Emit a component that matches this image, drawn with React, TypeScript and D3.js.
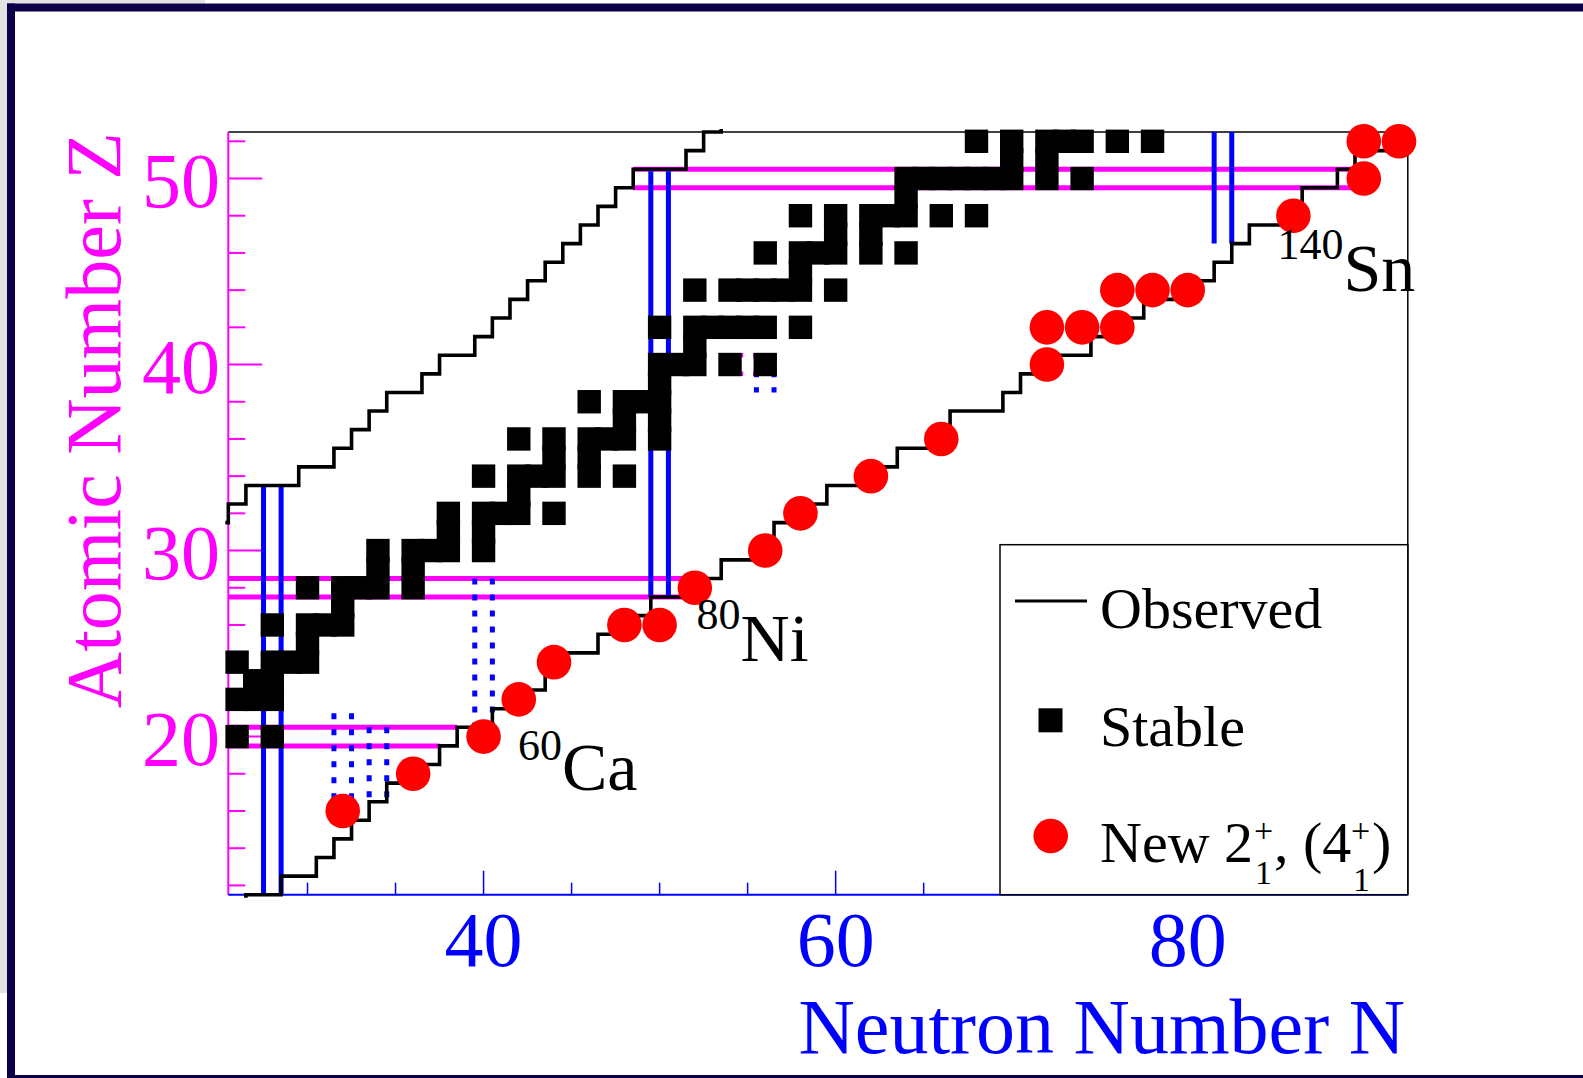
import React from 'react';
import * as d3 from 'd3';

// axis ranges (neutron number N on x, proton number Z on y)
const nDomain: [number, number] = [25.5, 92.5];
const zDomain: [number, number] = [11.5, 52.5];
const xMajorTicks = [40, 60, 80];
const xMinorTicks = [30, 35, 45, 50, 55, 65, 70, 75, 85, 90];
const yMajorTicks = [20, 30, 40, 50];
const yMinorTicks = [12, 14, 16, 18, 22, 24, 26, 28, 32, 34, 36, 38, 42, 44, 46, 48, 52];

// stable nuclei: [Z, list of N]
const stableRows: [number, number[]][] = [
  [20, [26, 28]],
  [22, [26, 27, 28]],
  [23, [27, 28]],
  [24, [26, 28, 29, 30]],
  [25, [30]],
  [26, [28, 30, 31, 32]],
  [27, [32]],
  [28, [30, 32, 33, 34, 36]],
  [29, [34, 36]],
  [30, [34, 36, 37, 38, 40]],
  [31, [38, 40]],
  [32, [38, 40, 41, 42, 44]],
  [33, [42]],
  [34, [40, 42, 43, 44, 46, 48]],
  [35, [44, 46]],
  [36, [42, 44, 46, 47, 48, 50]],
  [37, [48, 50]],
  [38, [46, 48, 49, 50]],
  [39, [50]],
  [40, [50, 51, 52, 54, 56]],
  [41, [52]],
  [42, [50, 52, 53, 54, 55, 56, 58]],
  [44, [52, 54, 55, 56, 57, 58, 60]],
  [45, [58]],
  [46, [56, 58, 59, 60, 62, 64]],
  [47, [60, 62]],
  [48, [58, 60, 62, 63, 64, 66, 68]],
  [49, [64]],
  [50, [64, 65, 66, 67, 68, 69, 70, 72, 74]],
  [51, [70, 72]],
  [52, [68, 70, 72, 73, 74, 76, 78]],
];

// new 2+ (4+) measurements
const newN = [32, 36, 40, 42, 44, 48, 50, 52, 56, 58, 62, 66, 72, 72, 74, 76, 76, 78, 80, 86, 90, 90, 92];
const newZ = [16, 18, 20, 22, 24, 26, 26, 28, 30, 32, 34, 36, 40, 42, 42, 42, 44, 44, 44, 48, 50, 52, 52];

// observed limits: lightest N (proton-rich side) and heaviest N (neutron-rich side) per Z
const obsMinZ = d3.range(31, 54);
const obsMinN = [25, 26, 27, 30, 32, 33, 34, 35, 37, 38, 40, 41, 42, 43, 44, 45, 46, 47, 48, 49, 52, 53, 54];
const obsMaxZ = d3.range(11, 53);
const obsMaxN = [26, 28, 30, 31, 32, 33, 34, 36, 37, 38, 40, 42, 43, 44, 46, 48, 49, 52, 53, 56, 56, 58, 59,
  62, 63, 65, 66, 69, 70, 72, 74, 76, 77, 80, 81, 82, 83, 86, 86, 88, 89, 93];

// magic numbers: horizontal [Z, N from, N to], vertical [N, Z from, Z to]
const protonMagic: [number, number, number][] = [
  [19.5, 25.5, 37.5], [20.5, 25.5, 38.5],
  [27.5, 25.5, 52.5], [28.5, 25.5, 52.5],
  [49.5, 48.5, 89.5], [50.5, 48.5, 89.5],
];
const protonSub: [number, number, number][] = [[39.5, 53.5, 56.5], [40.5, 53.5, 56.5]];
const neutronMagic: [number, number, number][] = [
  [27.5, 11.5, 33.5], [28.5, 11.5, 33.5],
  [49.5, 27.5, 50.5], [50.5, 27.5, 50.5],
  [81.5, 46.5, 52.5], [82.5, 46.5, 52.5],
];
const neutronSub: [number, number, number][] = [
  [31.5, 15.5, 21.25], [32.5, 15.5, 21.25],
  [33.5, 16.5, 20.5], [34.5, 16.5, 20.5],
  [39.5, 20.5, 28.5], [40.5, 20.5, 28.5],
  [55.5, 38.5, 40.5], [56.5, 38.5, 40.5],
];

const W = 1583;
const H = 1078;
const plot = { left: 228.3, right: 1407.8, top: 132, bottom: 894.7 };
const serif = "'Liberation Serif', 'Times New Roman', Times, serif";
const MAGENTA = '#ff00ff';
const BLUE = '#0000ff';
const RED = '#ff0000';
const SQ = 23.4;
const R = 17.3;

export default function App() {
  const x = d3.scaleLinear().domain(nDomain).range([plot.left, plot.right]);
  const y = d3.scaleLinear().domain(zDomain).range([plot.bottom, plot.top]);
  const line = d3.line<[number, number]>().x(d => x(d[0])).y(d => y(d[1]));

  const protonSide = obsMinZ.flatMap((z, i) => [
    [obsMinN[i] - 0.5, z - 0.5], [obsMinN[i] - 0.5, z + 0.5],
  ] as [number, number][]);
  const neutronSide = obsMaxZ.flatMap((z, i) => [
    [obsMaxN[i] + 0.5, z - 0.5], [obsMaxN[i] + 0.5, z + 0.5],
  ] as [number, number][]);

  const stable = stableRows.flatMap(([z, ns]) => ns.map(n => ({ n, z })));

  return (
    <svg width={W} height={H} style={{ position: 'absolute', left: 0, top: 0, display: 'block' }}
      fontFamily={serif}>
      <defs>
        <clipPath id="plotClip">
          <rect x={plot.left - 3} y={plot.top - 3} width={plot.right - plot.left + 6}
            height={plot.bottom - plot.top + 6} />
        </clipPath>
      </defs>
      <rect x={0} y={0} width={W} height={H} fill="#ffffff" />
      <rect x={0} y={0} width={7} height={993} fill="#e2e2e2" />
      <rect x={0} y={0} width={205} height={3.5} fill="#e2e2e2" />
      {/* canvas border */}
      <rect x={7} y={3.5} width={W - 7} height={8} fill="#0b0048" />
      <rect x={7} y={3.5} width={8} height={H - 3.5} fill="#0b0048" />
      <rect x={7} y={1075} width={W - 7} height={3} fill="#0b0048" />

      {/* frame */}
      <line x1={plot.left} x2={plot.right} y1={plot.top} y2={plot.top} stroke="#000" strokeWidth={1.5} />
      <line x1={plot.right} x2={plot.right} y1={plot.top} y2={plot.bottom} stroke="#000" strokeWidth={1.5} />

      {/* y axis */}
      <line x1={plot.left} x2={plot.left} y1={plot.top} y2={plot.bottom} stroke={MAGENTA} strokeWidth={2} />
      {yMinorTicks.map(t => (
        <line key={'ym' + t} x1={plot.left} x2={plot.left + 17} y1={y(t)} y2={y(t)} stroke={MAGENTA} strokeWidth={2} />
      ))}
      {yMajorTicks.map(t => (
        <g key={'yM' + t}>
          <line x1={plot.left} x2={plot.left + 34} y1={y(t)} y2={y(t)} stroke={MAGENTA} strokeWidth={2} />
          <text x={220} y={y(t) + 28} fontSize={78} fill={MAGENTA} textAnchor="end">{t}</text>
        </g>
      ))}
      <text transform={`translate(120, ${plot.top}) rotate(-90)`} fontSize={78} fill={MAGENTA}
        textAnchor="end">Atomic Number Z</text>

      {/* x axis */}
      <line x1={plot.left} x2={plot.right} y1={plot.bottom} y2={plot.bottom} stroke={BLUE} strokeWidth={2} />
      {xMinorTicks.map(t => (
        <line key={'xm' + t} x1={x(t)} x2={x(t)} y1={plot.bottom} y2={plot.bottom - 12} stroke={BLUE} strokeWidth={1.5} />
      ))}
      {xMajorTicks.map(t => (
        <g key={'xM' + t}>
          <line x1={x(t)} x2={x(t)} y1={plot.bottom} y2={plot.bottom - 24} stroke={BLUE} strokeWidth={1.5} />
          <text x={x(t)} y={966} fontSize={78} fill={BLUE} textAnchor="middle">{t}</text>
        </g>
      ))}
      <text x={1405} y={1053} fontSize={78} fill={BLUE} textAnchor="end">Neutron Number N</text>

      <g clipPath="url(#plotClip)">
        {/* shell closures */}
        {protonMagic.map(([z, n1, n2], i) => (
          <line key={'pm' + i} x1={x(n1)} x2={x(n2)} y1={y(z)} y2={y(z)} stroke={MAGENTA} strokeWidth={5} />
        ))}
        {protonSub.map(([z, n1, n2], i) => (
          <line key={'ps' + i} x1={x(n1)} x2={x(n2)} y1={y(z)} y2={y(z)} stroke={MAGENTA} strokeWidth={4.5}
            strokeDasharray="6,10" />
        ))}
        {neutronMagic.map(([n, z1, z2], i) => (
          <line key={'nm' + i} x1={x(n)} x2={x(n)} y1={y(z2)} y2={y(z1)} stroke={BLUE} strokeWidth={5} />
        ))}
        {neutronSub.map(([n, z1, z2], i) => (
          <line key={'ns' + i} x1={x(n)} x2={x(n)} y1={y(z2)} y2={y(z1)} stroke={BLUE} strokeWidth={5}
            strokeDasharray="6,10" />
        ))}
      </g>

      {/* stable nuclei */}
      {stable.map((d, i) => (
        <rect key={'s' + i} x={x(d.n) - SQ / 2} y={y(d.z) - SQ / 2} width={SQ} height={SQ} fill="#000" />
      ))}

      {/* observed limits */}
      <g clipPath="url(#plotClip)">
        <path d={line(protonSide) || ''} fill="none" stroke="#000" strokeWidth={3.6} />
        <path d={line(neutronSide) || ''} fill="none" stroke="#000" strokeWidth={3.6} />
      </g>

      {/* new measurements */}
      {newN.map((n, i) => (
        <circle key={'c' + i} cx={x(n)} cy={y(newZ[i])} r={R} fill={RED} />
      ))}

      {/* isotope labels */}
      <text x={x(41.95)} y={y(17.12)} fill="#000">
        <tspan fontSize={44} dy={-30}>60</tspan>
        <tspan fontSize={68} dy={30}>Ca</tspan>
      </text>
      <text x={x(52.1)} y={y(24.06)} fill="#000">
        <tspan fontSize={44} dy={-32}>80</tspan>
        <tspan fontSize={68} dy={32}>Ni</tspan>
      </text>
      <text x={x(85.1)} y={y(43.95)} fill="#000">
        <tspan fontSize={44} dy={-32}>140</tspan>
        <tspan fontSize={68} dy={32}>Sn</tspan>
      </text>

      {/* legend */}
      <rect x={1000} y={544.7} width={plot.right - 1000} height={plot.bottom - 544.7} fill="#fff"
        stroke="#000" strokeWidth={1.5} />
      <line x1={1015} x2={1087} y1={601} y2={601} stroke="#000" strokeWidth={3} />
      <text x={1100} y={628} fontSize={58} fill="#000">Observed</text>
      <rect x={1050.5 - 12} y={720.3 - 12} width={24} height={24} fill="#000" />
      <text x={1100} y={746} fontSize={58} fill="#000">Stable</text>
      <circle cx={1050.7} cy={836} r={R} fill={RED} />
      <text x={1100} y={862} fontSize={58} fill="#000">New 2</text>
      <text x={1254} y={842} fontSize={34} fill="#000">+</text>
      <text x={1255} y={884} fontSize={34} fill="#000">1</text>
      <text x={1274} y={862} fontSize={58} fill="#000">, (4</text>
      <text x={1351} y={842} fontSize={34} fill="#000">+</text>
      <text x={1353} y={891} fontSize={34} fill="#000">1</text>
      <text x={1372} y={862} fontSize={58} fill="#000">)</text>
    </svg>
  );
}
